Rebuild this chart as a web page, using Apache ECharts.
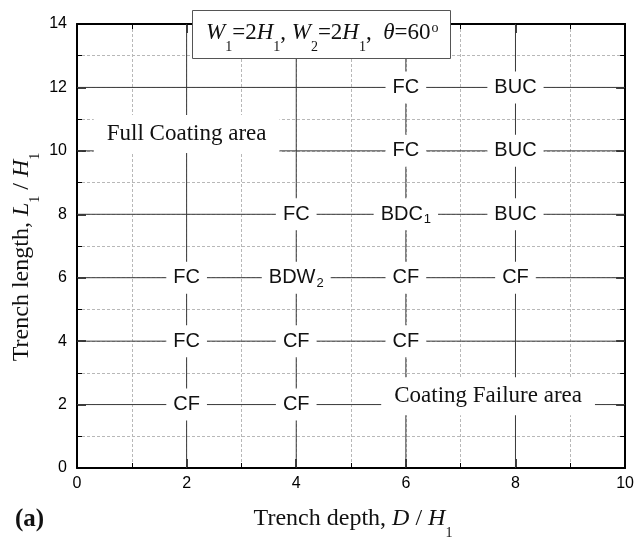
<!DOCTYPE html>
<html>
<head>
<meta charset="utf-8">
<script src="https://cdn.jsdelivr.net/npm/echarts@6/dist/echarts.min.js"></script>
<style>
html, body { margin: 0; padding: 0; background: #fff; }
#chart { width: 637px; height: 537px; }
</style>
</head>
<body>
<div id="chart"></div>
<script>
// Axis ranges and tick spacing
const depthRange = [0, 10];
const lengthRange = [0, 14];
const majorStep = 2;

// Guide grid of the simulated cases: rows at L1/H1, columns at D/H1
const lengthRows = [2, 4, 6, 8, 10, 12];
const depthCols = [2, 4, 6, 8];

// Observed mode at each (D/H1, L1/H1) case
const caseDepth  = [2, 2, 2, 4, 4, 4, 4, 6, 6, 6, 6, 6, 8, 8, 8, 8];
const caseLength = [6, 4, 2, 8, 6, 4, 2, 12, 10, 8, 6, 4, 12, 10, 8, 6];
const caseMode   = ['FC', 'FC', 'CF', 'FC', 'BDW', 'CF', 'CF', 'FC', 'FC', 'BDC', 'CF', 'CF', 'BUC', 'BUC', 'BUC', 'CF'];
const caseSub    = ['', '', '', '', '2', '', '', '', '', '1', '', '', '', '', '', ''];

// Region annotations
const areaText   = ['Full Coating area', 'Coating Failure area'];
const areaDepth  = [2, 7.5];
const areaLength = [10.53, 2.26];

const SANS = '"Liberation Sans", Arial, sans-serif';
const SERIF = '"Liberation Serif", "Times New Roman", serif';
const INK = '#111';

const frameLine = { show: true, onZero: false, lineStyle: { color: '#000', width: 2 } };
const dotted = { show: true, lineStyle: { color: '#b8b8b8', width: 1, type: [3, 2] } };
const majorTick = { show: true, inside: true, length: 9, lineStyle: { color: '#000', width: 1.5 } };
const minorTick = { show: true, splitNumber: 2, length: 5, lineStyle: { color: '#000', width: 1 } };
const tickLabel = { fontFamily: SANS, fontSize: 16, color: '#000' };

function valueAxis(range, position, labelled) {
  return {
    type: 'value',
    min: range[0],
    max: range[1],
    interval: majorStep,
    position: position,
    axisLine: frameLine,
    axisTick: majorTick,
    minorTick: minorTick,
    axisLabel: labelled ? Object.assign({ show: true, margin: position === 'left' ? 10 : 8 }, tickLabel) : { show: false },
    splitLine: labelled ? dotted : { show: false },
    minorSplitLine: labelled ? dotted : { show: false }
  };
}

// plain, fully opaque text without the automatic outline given to inside labels
const plainText = { textBorderWidth: 0, textBorderColor: 'transparent', textShadowBlur: 0, opacity: 1 };

const guideStyle = { color: '#3a3a3a', width: 1 };
const series = [];
lengthRows.forEach(function (l) {
  series.push({
    type: 'line', silent: true, animation: false, symbol: 'none', z: 2,
    lineStyle: guideStyle,
    data: [[depthRange[0], l], [depthRange[1], l]]
  });
});
depthCols.forEach(function (d) {
  series.push({
    type: 'line', silent: true, animation: false, symbol: 'none', z: 2,
    lineStyle: guideStyle,
    data: [[d, lengthRange[0]], [d, lengthRange[1]]]
  });
});

// Mode labels sit on the guide crossings with a white backing that breaks the lines
series.push({
  type: 'scatter', silent: true, animation: false, symbolSize: 0, z: 5,
  itemStyle: { color: INK, opacity: 1 },
  data: caseMode.map(function (m, i) {
    return { value: [caseDepth[i], caseLength[i]], name: m, sub: caseSub[i] };
  }),
  label: Object.assign({
    show: true, position: 'inside',
    backgroundColor: '#fff', padding: [6, 7],
    fontFamily: SANS, fontSize: 20, fontWeight: 'normal', color: INK,
    formatter: function (p) {
      return p.data.sub ? '{m|' + p.name + '}{s|' + p.data.sub + '}' : '{m|' + p.name + '}';
    },
    rich: {
      m: Object.assign({ fontFamily: SANS, fontSize: 20, lineHeight: 20, color: INK, verticalAlign: 'top' }, plainText),
      s: Object.assign({ fontFamily: SANS, fontSize: 13, lineHeight: 13, color: INK, verticalAlign: 'top', padding: [9, 0, 0, 1] }, plainText)
    }
  }, plainText),
  emphasis: { disabled: true }
});

series.push({
  type: 'scatter', silent: true, animation: false, symbolSize: 0, z: 5,
  itemStyle: { color: INK, opacity: 1 },
  data: areaText.map(function (t, i) {
    return { value: [areaDepth[i], areaLength[i]], name: t };
  }),
  label: Object.assign({
    show: true, position: 'inside', formatter: '{b}',
    backgroundColor: '#fff', padding: [7, 13],
    fontFamily: SERIF, fontSize: 23, fontWeight: 'normal', lineHeight: 24, color: INK
  }, plainText),
  emphasis: { disabled: true }
});

const serifRich = function (size, subPad) {
  const base = { fontFamily: SERIF, fontWeight: 'normal', color: INK, verticalAlign: 'top' };
  return {
    n: Object.assign({ fontSize: size, lineHeight: size + 1 }, base),
    i: Object.assign({ fontStyle: 'italic', fontSize: size, lineHeight: size + 1 }, base),
    s: Object.assign({ fontSize: 14, lineHeight: 14, padding: [subPad, 0, 0, 0] }, base),
    o: Object.assign({ fontSize: 14, lineHeight: 14, padding: [0, 0, 0, 1] }, base)
  };
};

const option = {
  backgroundColor: '#fff',
  animation: false,
  grid: { left: 77, right: 11, top: 24, bottom: 69 },
  title: {
    text: '{i|W}{s|1}{n|=2}{i|H}{s|1}{n|, }{i|W}{s|2}{n|=2}{i|H}{s|1}{n|,  }{i|θ}{n|=60}{o|o}',
    left: 192, top: 10,
    padding: [11, 12, 5, 14],
    borderColor: '#555', borderWidth: 1, backgroundColor: '#fff',
    textStyle: { fontFamily: SERIF, fontSize: 23, fontWeight: 'normal', color: INK, rich: serifRich(23, 19) },
    z: 10
  },
  xAxis: [valueAxis(depthRange, 'bottom', true), valueAxis(depthRange, 'top', false)],
  yAxis: [valueAxis(lengthRange, 'left', true), valueAxis(lengthRange, 'right', false)],
  graphic: [
    {
      type: 'text', x: 353, y: 507, silent: true,
      style: {
        text: '{n|Trench depth, }{i|D}{n| / }{i|H}{s|1}',
        align: 'center', verticalAlign: 'top', textAlign: 'center', textVerticalAlign: 'top',
        fill: INK, rich: serifRich(24, 19)
      }
    },
    {
      type: 'text', x: 9.5, y: 257, rotation: Math.PI / 2, silent: true,
      style: {
        text: '{n|Trench length, }{i|L}{s|1}{n| / }{i|H}{s|1}',
        align: 'center', verticalAlign: 'top', textAlign: 'center', textVerticalAlign: 'top',
        fill: INK, rich: serifRich(24, 19)
      }
    },
    {
      type: 'text', x: 15, y: 520, silent: true,
      style: {
        text: '(a)', font: 'bold 25px ' + SERIF,
        align: 'left', verticalAlign: 'middle', textAlign: 'left', textVerticalAlign: 'middle',
        fill: INK
      }
    }
  ],
  series: series
};

echarts.init(document.getElementById('chart'), null, { renderer: 'canvas' }).setOption(option);
</script>
</body>
</html>
